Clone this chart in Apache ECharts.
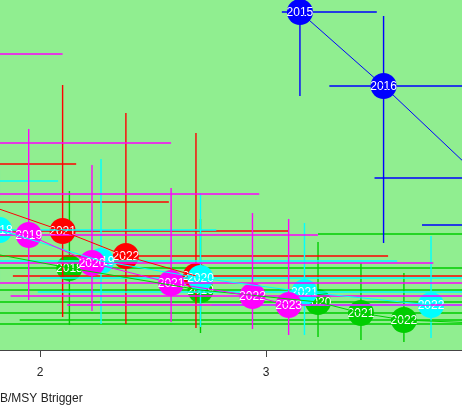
<!DOCTYPE html>
<html>
<head>
<meta charset="utf-8">
<style>html,body{margin:0;padding:0;background:#fff}#draw{width:462px;height:419px}</style>
<script src="https://cdn.jsdelivr.net/npm/echarts@6/dist/echarts.min.js"></script>
</head>
<body>
<div id="draw"></div>
<script>
// x = SSB/MSY Btrigger, y = F/Fmsy
var xTicks = [2, 3];

var greenYears = [2017, 2018, 2019, 2020, 2021, 2022, 2023, 2024];
var greenX   = [1.47, 2.13, 2.71, 3.23, 3.42, 3.61, 4.04, 4.30];
var greenY   = [1.10, 0.82, 0.60, 0.48, 0.37, 0.30, 0.26, 1.16];
var greenXlo = [0.50, 1.60, 1.60, 1.69, 1.73, 1.91, 1.69, 3.23];
var greenXhi = [1.80, 3.95, 3.90, 4.12, 4.21, 4.30, 4.57, 4.90];
var greenYlo = [0.50, 0.25, 0.17, 0.13, 0.10, 0.08, 0.10, 0.80];
var greenYhi = [1.60, 1.59, 1.31, 1.08, 0.87, 0.77, 0.60, 1.50];

var redYears = [2019, 2020, 2021, 2022, 2023];
var redX   = [1.16, 1.73, 2.10, 2.38, 2.69];
var redY   = [1.86, 1.48, 1.19, 0.94, 0.74];
var redXlo = [0.50, 0.94, 1.38, 1.56, 1.88];
var redXhi = [2.16, 2.57, 3.10, 3.54, 4.04];
var redYlo = [1.20, 0.90, 0.33, 0.26, 0.22];
var redYhi = [2.60, 2.20, 2.65, 2.37, 2.17];

var blueYears = [2015, 2016, 2017, 2018];
var blueX   = [3.15, 3.52, 3.95, 4.21];
var blueY   = [3.38, 2.64, 1.72, 1.25];
var blueXlo = [3.07, 3.28, 3.48, 3.69];
var blueXhi = [3.49, 4.12, 4.48, 4.70];
var blueYlo = [2.54, 1.07, 0.90, 0.50];
var blueYhi = [3.90, 3.34, 2.50, 2.00];

var cyanYears = [2017, 2018, 2019, 2020, 2021, 2022];
var cyanX   = [1.47, 1.82, 2.27, 2.71, 3.17, 3.73];
var cyanY   = [1.69, 1.20, 0.89, 0.72, 0.58, 0.45];
var cyanXlo = [0.90, 1.16, 1.38, 2.00, 1.99, 2.76];
var cyanXhi = [2.08, 2.78, 3.58, 4.12, 4.04, 4.30];
var cyanYlo = [1.20, 0.60, 0.26, 0.23, 0.15, 0.12];
var cyanYhi = [2.20, 1.80, 1.91, 1.57, 1.27, 1.14];

var magYears = [2016, 2017, 2018, 2019, 2020, 2021, 2022, 2023];
var magX   = [-0.39, 0.05, 0.94, 1.95, 2.23, 2.58, 2.94, 3.10];
var magY   = [2.96, 2.07, 1.56, 1.15, 0.87, 0.67, 0.54, 0.45];
var magXlo = [-0.83, -0.50, 0.50, 1.38, 1.38, 1.60, 1.87, 2.12];
var magXhi = [2.10, 2.58, 2.97, 3.23, 3.74, 4.04, 4.04, 4.12];
var magYlo = [2.30, 1.50, 1.00, 0.50, 0.39, 0.28, 0.21, 0.15];
var magYhi = [3.60, 2.60, 2.10, 2.21, 1.85, 1.62, 1.37, 1.31];

var stocks = [
	{ color: '#00CD00', years: greenYears, x: greenX, y: greenY, xlo: greenXlo, xhi: greenXhi, ylo: greenYlo, yhi: greenYhi },
	{ color: '#FF0000', years: redYears, x: redX, y: redY, xlo: redXlo, xhi: redXhi, ylo: redYlo, yhi: redYhi },
	{ color: '#0000FF', years: blueYears, x: blueX, y: blueY, xlo: blueXlo, xhi: blueXhi, ylo: blueYlo, yhi: blueYhi },
	{ color: '#00FFFF', years: cyanYears, x: cyanX, y: cyanY, xlo: cyanXlo, xhi: cyanXhi, ylo: cyanYlo, yhi: cyanYhi },
	{ color: '#FF00FF', years: magYears, x: magX, y: magY, xlo: magXlo, xhi: magXhi, ylo: magYlo, yhi: magYhi }
];

var myChart = echarts.init(document.getElementById('draw'));

var series = [];
stocks.forEach(function(s) {
	// error bars
	series.push({
		type : 'custom',
		clip : true,
		silent : true,
		encode : { x : 0, y : 1 },
		data : s.x.map(function(v, i) {
			return [ v, s.y[i], s.xlo[i], s.xhi[i], s.ylo[i], s.yhi[i] ];
		}),
		renderItem : function(params, api) {
			var c = api.coord([ api.value(0), api.value(1) ]);
			var l = api.coord([ api.value(2), api.value(1) ]);
			var r = api.coord([ api.value(3), api.value(1) ]);
			var b = api.coord([ api.value(0), api.value(4) ]);
			var t = api.coord([ api.value(0), api.value(5) ]);
			var st = { stroke : s.color, lineWidth : 1.4 };
			return {
				type : 'group',
				children : [
					{ type : 'line', shape : { x1 : l[0], y1 : l[1], x2 : r[0], y2 : r[1] }, style : st },
					{ type : 'line', shape : { x1 : c[0], y1 : b[1], x2 : c[0], y2 : t[1] }, style : st }
				]
			};
		}
	});
	// trajectory
	series.push({
		type : 'line',
		clip : true,
		silent : true,
		symbol : 'none',
		lineStyle : { color : s.color, width : 1 },
		data : s.x.map(function(v, i) {
			return [ v, s.y[i] ];
		})
	});
	// year points
	series.push({
		type : 'custom',
		clip : true,
		silent : true,
		encode : { x : 0, y : 1 },
		data : s.x.map(function(v, i) {
			return [ v, s.y[i] ];
		}),
		renderItem : function(params, api) {
			var c = api.coord([ api.value(0), api.value(1) ]);
			return {
				type : 'group',
				children : [
					{ type : 'circle', shape : { cx : c[0], cy : c[1], r : 13 }, style : { fill : s.color } },
					{ type : 'text', style : {
						text : String(s.years[params.dataIndex]),
						x : c[0], y : c[1] + 1,
						fill : '#fff',
						font : '12px "Liberation Sans", Arial, sans-serif',
						align : 'center',
						verticalAlign : 'middle'
					} }
				]
			};
		}
	});
});

option = {
	animation : false,
	backgroundColor : '#fff',
	grid : { left : 0, right : 0, top : 0, bottom : 69, show : true, backgroundColor : '#90EE90', borderWidth : 0 },
	xAxis : {
		type : 'value',
		min : 1.823,
		max : 3.867,
		splitLine : { show : false },
		axisLine : { show : true, onZero : false, lineStyle : { color : '#444', width : 1 } },
		axisTick : { show : true, customValues : xTicks, length : 7, lineStyle : { color : '#444' } },
		axisLabel : { customValues : xTicks, margin : 17, fontSize : 12, color : '#222', fontFamily : 'Liberation Sans' }
	},
	yAxis : {
		type : 'value',
		min : 0,
		max : 3.5,
		show : false
	},
	graphic : [ {
		type : 'text',
		left : 0,
		top : 393,
		style : { text : 'B/MSY Btrigger', font : '12px "Liberation Sans", Arial, sans-serif', fill : '#222' }
	} ],
	series : series
};
myChart.setOption(option);
</script>
</body>
</html>
